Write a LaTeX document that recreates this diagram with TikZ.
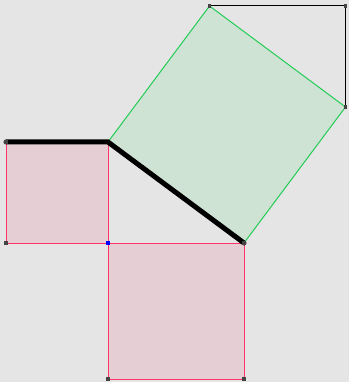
\documentclass[tikz,border=0pt]{standalone}
\definecolor{bg}{HTML}{E5E5E5}
\definecolor{pinkfill}{HTML}{E6CFD4}
\definecolor{redline}{HTML}{FF3366}
\definecolor{greenfill}{HTML}{CFE3D4}
\definecolor{greenline}{HTML}{22CC55}
\definecolor{dotgray}{HTML}{444444}
\tikzset{
  redsq/.style={fill=pinkfill, draw=redline, line width=1pt},
  greensq/.style={fill=greenfill, draw=greenline, line width=1pt},
  thick black/.style={draw=black, line width=5pt, line join=miter, line cap=round},
  thin black/.style={draw=black, line width=1pt},
  dot/.style={fill=dotgray, minimum size=3.5pt, inner sep=0pt, rectangle},
  bluedot/.style={fill=blue, minimum size=3.5pt, inner sep=0pt, rectangle}
}
\begin{document}
\begin{tikzpicture}[x=1pt,y=-1pt]
\fill[bg] (0,0) rectangle (349,382);
\useasboundingbox (0,0) rectangle (349,382);
\coordinate (A) at (6,142);
\coordinate (B) at (108,142);
\coordinate (C) at (108,243);
\coordinate (D) at (6,243);
\coordinate (E) at (244,243);
\coordinate (F) at (244,379);
\coordinate (G) at (108,379);
\coordinate (H) at (209.5,6);
\coordinate (I) at (345.5,107);
\coordinate (J) at (345.5,6);
\path[redsq] (A) -- (B) -- (C) -- (D) -- cycle;
\path[redsq] (C) -- (E) -- (F) -- (G) -- cycle;
\path[greensq] (B) -- (E) -- (I) -- (H) -- cycle;
\path[thin black] (H) -- (J) -- (I);
\path[thick black] (A) -- (B) -- (E);
\node[dot] at (A) {};
\node[dot] at (D) {};
\node[dot] at (G) {};
\node[dot] at (F) {};
\node[dot] at (E) {};
\node[dot] at (H) {};
\node[dot] at (J) {};
\node[dot] at (I) {};
\node[bluedot] at (C) {};
\end{tikzpicture}
\end{document}
